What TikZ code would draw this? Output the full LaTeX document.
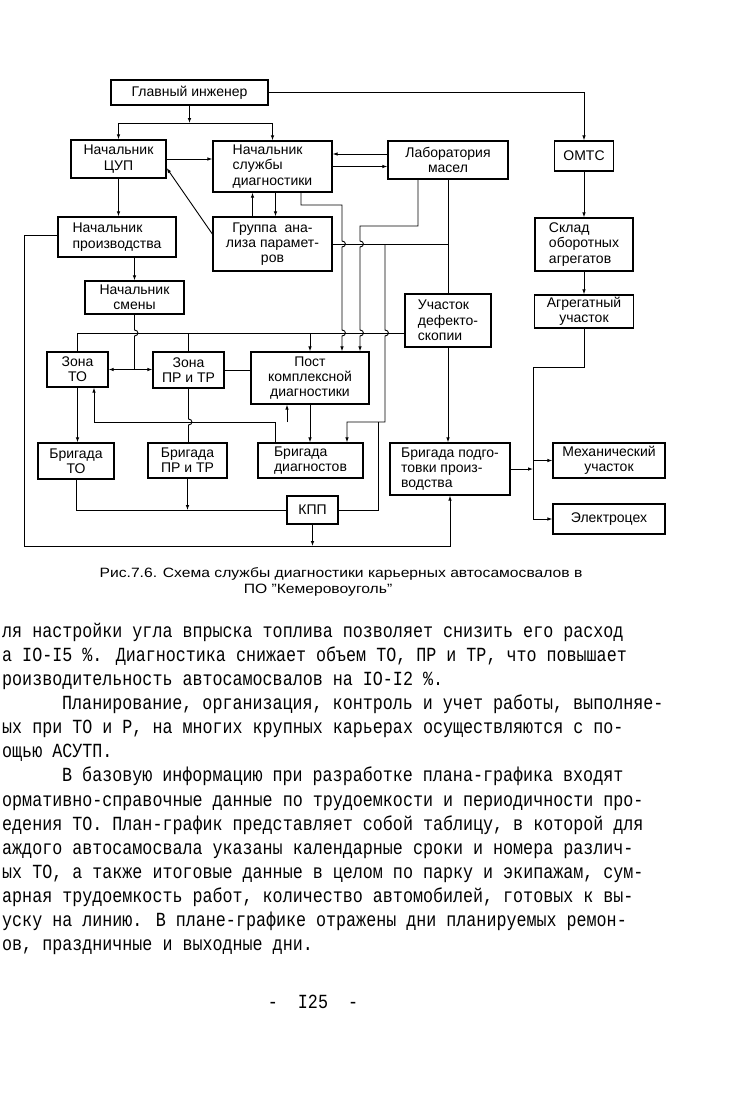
\documentclass[tikz,border=0pt]{standalone}
\usepackage{fontspec}
\usepackage{graphicx}
\setmainfont{Liberation Sans}
\newfontfamily\typewriter{Liberation Mono}
\usetikzlibrary{arrows.meta,positioning}

% Little bump of a vertical line over a crossing line
\newcommand{\jumpv}[2]{-- (#1,#2-3) .. controls (#1+4.5,#2-3) and (#1+4.5,#2+3) .. (#1,#2+3)}

\tikzset{
    unit/.style={draw, line width=1.3pt, align=center, inner sep=1pt,
        font=\fontsize{14}{15.3}\selectfont},
    link/.style={line width=0.9pt},
    >={Latex[length=5pt,width=3.6pt]},
    caption/.style={anchor=base, inner sep=0pt, font=\fontsize{13.5}{15}\selectfont},
    textline/.style={anchor=base west, inner sep=0pt, font=\typewriter\fontsize{16.7}{20}\selectfont}
}

\begin{document}
\begin{tikzpicture}[x=1pt, y=-1pt]
    \def\busA{333}
    \def\busB{244}
    \def\busC{422}
    \def\busE{546}

    \fill[white] (0,0) rectangle (728,1100);
    \useasboundingbox (0,0) rectangle (728,1100);

    % Top level
    \node[unit, minimum width=157, minimum height=25] (chief) at (189.5,92.5) {Главный инженер};
    \node[unit, minimum width=95, minimum height=38] (cup) at (118.5,159) {Начальник\\ЦУП};
    \node[unit, minimum width=119, minimum height=51, align=left] (diag) at (272.5,166.5) {Начальник\\службы\\диагностики};
    \node[unit, minimum width=120, minimum height=38] (lab) at (448,160) {Лаборатория\\масел};
    \node[unit, minimum width=59, minimum height=30] (omts) at (584,156) {ОМТС};

    % Second level
    \node[unit, minimum width=118, minimum height=40, align=left] (prod) at (117,237) {Начальник\\производства};
    \node[unit, minimum width=119, minimum height=54] (group) at (272.5,244) {Группа \ ана-\\лиза парамет-\\ров};
    \node[unit, minimum width=98, minimum height=53, align=left] (sklad) at (584,244.5) {Склад\\оборотных\\агрегатов};
    \node[unit, minimum width=99, minimum height=33] (shift) at (134.5,297.5) {Начальник\\смены};
    \node[unit, minimum width=86, minimum height=53, align=left] (defect) at (448,320.5) {Участок\\дефекто-\\скопии};
    \node[unit, minimum width=99, minimum height=33] (agr) at (584,311.5) {Агрегатный\\участок};

    % Zones and post
    \node[unit, minimum width=61, minimum height=35] (zto) at (77.5,369.5) {Зона\\ТО};
    \node[unit, minimum width=71, minimum height=36] (zpr) at (188.5,370) {Зона\\ПР и ТР};
    \node[unit, minimum width=118, minimum height=52] (post) at (310,378) {Пост\\комплексной\\диагностики};

    % Brigades
    \node[unit, minimum width=76, minimum height=36] (bto) at (76,461) {Бригада\\ТО};
    \node[unit, minimum width=79, minimum height=35] (bpr) at (187.5,460.5) {Бригада\\ПР и ТР};
    \node[unit, minimum width=105, minimum height=35, align=left] (bdiag) at (310.5,460.5) {Бригада\\диагностов};
    \node[unit, minimum width=51, minimum height=28] (kpp) at (312.5,510) {КПП};
    \node[unit, minimum width=120, minimum height=52, align=left] (prep) at (450,469) {Бригада подго-\\товки произ-\\водства};
    \node[unit, minimum width=112, minimum height=35] (mech) at (609,460.5) {Механический\\участок};
    \node[unit, minimum width=112, minimum height=30] (elec) at (609,519) {Электроцех};

    % Links from the chief engineer
    \coordinate (chiefBus) at (189.5,123);
    \draw[link,->] (chief.south) -- (chiefBus);
    \draw[link,->] (chiefBus) -| (cup.north);
    \draw[link,->] (chiefBus) -| (diag.north);
    \draw[link,->] (chief.east) -| (omts.north);

    % Upper block
    \draw[link,->] (cup.east) -- (cup.east -| diag.west);
    \draw[link,->] ([yshift=10pt]group.west) -- ([yshift=-9pt]cup.east);
    \draw[link,->] (cup.south) -- (cup.south |- prod.north);
    \draw[link,->] ([xshift=-20pt]group.north) -- ([xshift=-20pt]diag.south);
    \draw[link,->] ([xshift=3pt]diag.south) -- ([xshift=3pt]group.north);
    \draw[link,->] ([yshift=6pt]lab.west) -- ([yshift=12.5pt]diag.east);
    \draw[link,->] (diag.east) -- (diag.east -| lab.west);
    \draw[link] (lab.south) -- (defect.north);
    \draw[link] (group.east) -- (group.east -| lab.south);
    \draw[link,->] (prod.south -| shift.north) -- (shift.north);

    % Lines down to the post
    \draw[link,->] ([xshift=28.5pt]diag.south) |- (342,205) \jumpv{342}{\busB} \jumpv{342}{\busA} -- (342,0 |- post.north);
    \draw[link,->] ([xshift=-30pt]lab.south) |- (360,226) \jumpv{360}{\busB} \jumpv{360}{\busA} -- (360,0 |- post.north);
    \draw[link,->] (385,\busB) \jumpv{385}{\busA} |- (347,\busC) -- (347,0 |- bdiag.north);
    \draw[link] (kpp.east) -| (378,\busC);

    % Bus over the zones
    \draw[link] ([yshift=-12.5pt]defect.west) -| (zto.north);
    \draw[link] (zpr.north |- 0,\busA) -- (zpr.north);
    \draw[link,->] (post.north |- 0,\busA) -- (post.north);
    \draw[link] (shift.south) \jumpv{134.5}{\busA} -- (shift.south |- zto.east) coordinate (shiftJoin);
    \draw[link,->] (shiftJoin) -- (shiftJoin -| zto.east);
    \draw[link,->] (shiftJoin) -- (shiftJoin -| zpr.west);
    \draw[link] (zpr.east) -- (zpr.east -| post.west);

    % Bus under the zones
    \draw[link,->] ([xshift=-35.5pt]bdiag.north) |- (94,\busC) -- (94,0 |- zto.south);
    \draw[link,->] (287,\busC) -- (287,0 |- post.south);
    \draw[link,->] (zto.south) -- (zto.south |- bto.north);
    \draw[link] (zpr.south) \jumpv{188.5}{\busC} -- (zpr.south |- bpr.north);
    \draw[link,->] (post.south) -- (post.south |- bdiag.north);

    % Brigades to the checkpoint
    \draw[link] (bto.south) |- (kpp.west);
    \draw[link,->] (bpr.south) -- (bpr.south |- kpp.west);
    \draw[link,->] (kpp.south) -- (kpp.south |- 0,\busE);
    \draw[link,->] ([yshift=2pt]prod.west) -| (24,\busE) -| (prep.south);

    % Right column
    \draw[link,->] (defect.south) -- (defect.south |- prep.north);
    \draw[link,->] (omts) -- (sklad);
    \draw[link,->] (sklad) -- (agr);
    \draw[link] (agr.south) |- (533,367) -- (533,0 |- elec.west);
    \draw[link,->] (533,0 |- mech.west) -- (mech.west);
    \draw[link,->] (533,0 |- elec.west) -- (elec.west);
    \draw[link,->] (prep.east) -- (533,0 |- prep.east);

    % Caption
    \node[caption] (capA) at (341,577) {\scalebox{1.16}[1]{Рис.7.6. Схема службы диагностики карьерных автосамосвалов в}};
    \node[caption] (capB) at (318,593) {\scalebox{1.16}[1]{ПО "Кемеровоуголь"}};

    % Typed text below the figure
    \foreach \x/\t [count=\i] in {
        2/{ля настройки угла впрыска топлива позволяет снизить его расход},
        2/{а IO-I5 \%. Диагностика снижает объем ТО, ПР и ТР, что повышает},
        2/{роизводительность автосамосвалов на IO-I2 \%.},
        62/{Планирование, организация, контроль и учет работы, выполняе-},
        2/{ых при ТО и Р, на многих крупных карьерах осуществляются с по-},
        2/{ощью АСУТП.},
        62/{В базовую информацию при разработке плана-графика входят},
        2/{ормативно-справочные данные по трудоемкости и периодичности про-},
        2/{едения ТО. План-график представляет собой таблицу, в которой для},
        2/{аждого автосамосвала указаны календарные сроки и номера различ-},
        2/{ых ТО, а также итоговые данные в целом по парку и экипажам, сум-},
        2/{арная трудоемкость работ, количество автомобилей, готовых к вы-},
        2/{уску на линию. В плане-графике отражены дни планируемых ремон-},
        2/{ов, праздничные и выходные дни.}}
        \node[textline] (line\i) at (\x,{637+(\i-1)*24.15}) {\scalebox{1}[1.2]{\t}};

    \node[textline, anchor=base] (pagenum) at (313,1008) {\scalebox{1}[1.2]{-~~I25~~-}};

\end{tikzpicture}
\end{document}
